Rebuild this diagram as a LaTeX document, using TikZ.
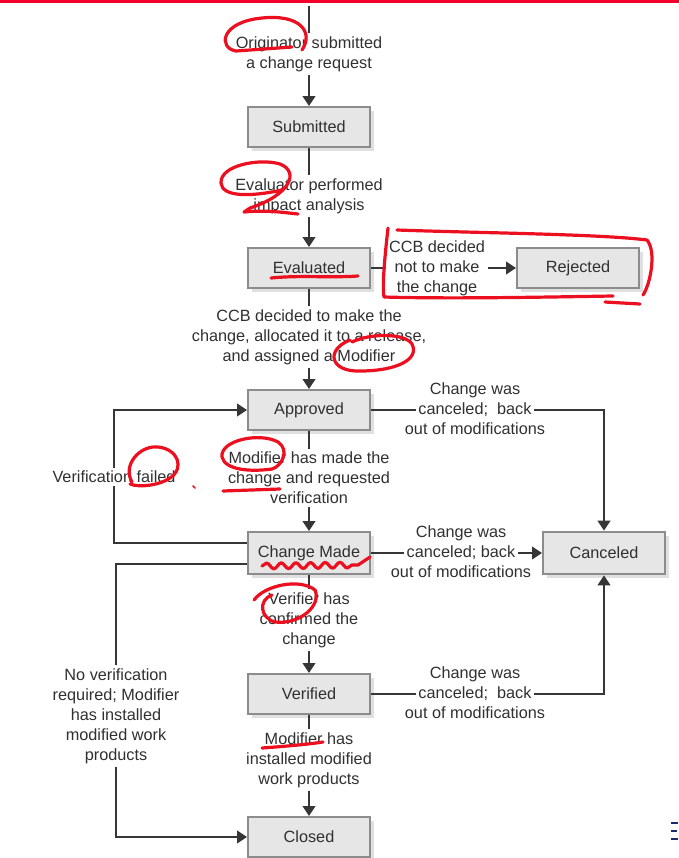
\documentclass[tikz,border=0pt]{standalone}
\usepackage{fontspec}
\setmainfont{Liberation Sans}
\usepackage{xcolor}
\usetikzlibrary{positioning}
\usetikzlibrary{calc}
\usetikzlibrary{arrows.meta}
\usetikzlibrary{shadows}
\usetikzlibrary{decorations.pathmorphing}
\definecolor{boxfill}{HTML}{E6E6E6}
\definecolor{boxline}{HTML}{8C8C8C}
\definecolor{wireink}{HTML}{363636}
\definecolor{txtink}{HTML}{303030}
\definecolor{penred}{HTML}{EC0F1F}
\definecolor{barred}{HTML}{F5002D}
\definecolor{navy}{HTML}{1B2A6B}
\tikzstyle{status}=[draw=boxline, fill=boxfill, line width=1.5pt, minimum width=91.5pt, minimum height=30pt, text=txtink, drop shadow={shadow xshift=3pt, shadow yshift=-3pt, fill=black!12, opacity=1}]
\tikzstyle{note}=[align=center, inner sep=2pt, text=txtink]
\tikzstyle{row}=[note, text height=9pt, text depth=2.6pt]
\tikzstyle{wire}=[draw=wireink, line width=1.6pt]
\tikzstyle{link}=[wire, -{Triangle[width=9.5pt,length=7.5pt]}]
\tikzstyle{ink}=[draw=penred, line width=2.4pt, line cap=round, line join=round]

\begin{document}
\begin{tikzpicture}[x=0.75pt, y=-0.75pt, font=\fontsize{12.2}{15}\selectfont]
    \useasboundingbox (0,0) rectangle (679,858);
    \fill[barred] (0,0) rectangle (679,3);

    \node[status] (submitted) at (309,127) {Submitted};
    \node[status] (evaluated) at (309,268) {Evaluated};
    \node[status] (rejected)  at (578,268) {Rejected};
    \node[status] (approved)  at (309,410) {Approved};
    \node[status, minimum height=31.5pt] (chgmade) at (309,553) {Change Made};
    \node[status, minimum height=32pt]   (canceled) at (604,553) {Canceled};
    \node[status] (verified)  at (309,694) {Verified};
    \node[status] (closed)    at (309,837) {Closed};

    \coordinate (entry) at (309,6);
    \node[note] (orig)      at (309,54)  {Originator submitted\\a change request};
    \node[note] (evalr)     at (309,196) {Evaluator performed\\impact analysis};
    \node[note] (notmake)   at (437,268) {CCB decided\\not to make\\the change};
    \node[note] (makeit)    at (309,337) {CCB decided to make the\\change, allocated it to a release,\\and assigned a Modifier};
    \node[note] (madechg)   at (309,478) {Modifier has made the\\change and requested\\verification};
    \node[note] (confirmed) at (309,620) {Verifier has\\confirmed the\\change};
    \node[note] (installed) at (309,760) {Modifier has\\installed modified\\work products};
    \node[note] (vfail)     at (114,477) {Verification failed};
    \node[note] (noverif)   at (116,716) {No verification\\required; Modifier\\has installed\\modified work\\products};

    \node[row] (canA)    at (475,410)   {canceled;\ \ back};
    \node[row] (canAtop) at (475,390.5) {Change was};
    \node[row] (canAbot) at (475,430) {out of modifications};
    \node[row] (canB)    at (461,553)   {canceled; back};
    \node[row] (canBtop) at (461,533.5) {Change was};
    \node[row] (canBbot) at (461,573) {out of modifications};
    \node[row] (canC)    at (475,694)   {canceled;\ \ back};
    \node[row] (canCtop) at (475,674.5) {Change was};
    \node[row] (canCbot) at (475,714) {out of modifications};

    \draw[wire] (entry) -- (orig);
    \draw[link] (orig) -- (submitted);
    \draw[wire] (submitted) -- (evalr);
    \draw[link] (evalr) -- (evaluated);
    \draw[wire] (evaluated) -- (notmake);
    \draw[link] (notmake) -- (rejected);
    \draw[wire] (evaluated) -- (makeit);
    \draw[link] (makeit) -- (approved);
    \draw[wire] (approved) -- (canA);
    \draw[link] (canA) -| (canceled);
    \draw[wire] (approved) -- (madechg);
    \draw[link] (madechg) -- (chgmade);
    \draw[wire] (chgmade) -- (canB);
    \draw[link] (canB) -- (canceled);
    \draw[wire] ($(chgmade.west)+(0,-10)$) -| (vfail);
    \draw[link] (vfail) |- (approved);
    \draw[wire] ($(chgmade.west)+(0,11)$) -| (noverif);
    \draw[link] (noverif) |- (closed);
    \draw[wire] (chgmade) -- (confirmed);
    \draw[link] (confirmed) -- (verified);
    \draw[wire] (verified) -- (canC);
    \draw[link] (canC) -| (canceled);
    \draw[wire] (verified) -- (installed);
    \draw[link] (installed) -- (closed);

    % pen marks
    \draw[ink] (292,47) -- (236,51) .. controls (218,48) and (220,22) .. (262,18) .. controls (300,14) and (314,32) .. (302,50);
    \draw[ink] (282,190) .. controls (250,197) and (222,197) .. (221,183) .. controls (220,165) and (260,158) .. (280,164) .. controls (300,172) and (290,195) .. (250,208) -- (244,212) .. controls (265,210) and (280,212) .. (298,214);
    \draw[ink] (271,278) .. controls (300,275) and (330,278) .. (358,276);
    \draw[ink] (397,230) .. controls (480,233) and (600,234) .. (647,240) .. controls (657,252) and (650,285) .. (643,295);
    \draw[ink] (388,228) .. controls (385,255) and (382,285) .. (384,297) .. controls (450,299) and (550,297) .. (613,296);
    \draw[ink] (605,302) -- (640,304);
    \draw[ink] (350,340) .. controls (325,350) and (330,372) .. (360,371) .. controls (395,371) and (420,360) .. (412,344) .. controls (405,333) and (370,333) .. (352,342);
    \draw[ink] (272,469) .. controls (250,472) and (225,470) .. (222,457) .. controls (220,440) and (260,432) .. (278,442) .. controls (290,450) and (282,466) .. (272,469);
    \draw[ink] (223,491) -- (280,489);
    \draw[ink] (132,482) .. controls (122,465) and (140,445) .. (158,447) .. controls (178,449) and (185,468) .. (170,478) .. controls (160,485) and (140,488) .. (130,484);
    \draw[ink, line width=1.2pt] (193,486) -- (195,488);
    \draw[ink, decorate, decoration={snake, amplitude=2.2pt, segment length=11pt}] (262,566) -- (358,565);
    \draw[ink] (358,565) -- (370,557);
    \draw[ink] (254,600) .. controls (265,585) and (300,578) .. (315,590) .. controls (322,605) and (300,625) .. (275,622) .. controls (260,618) and (258,600) .. (272,595);
    \draw[ink] (262,748) .. controls (290,746) and (310,744) .. (323,742);

    \draw[navy, line width=1.2pt] (671,823) -- (678,823) (671,831) -- (677,831) (671,839) -- (678,839);
\end{tikzpicture}
\end{document}
